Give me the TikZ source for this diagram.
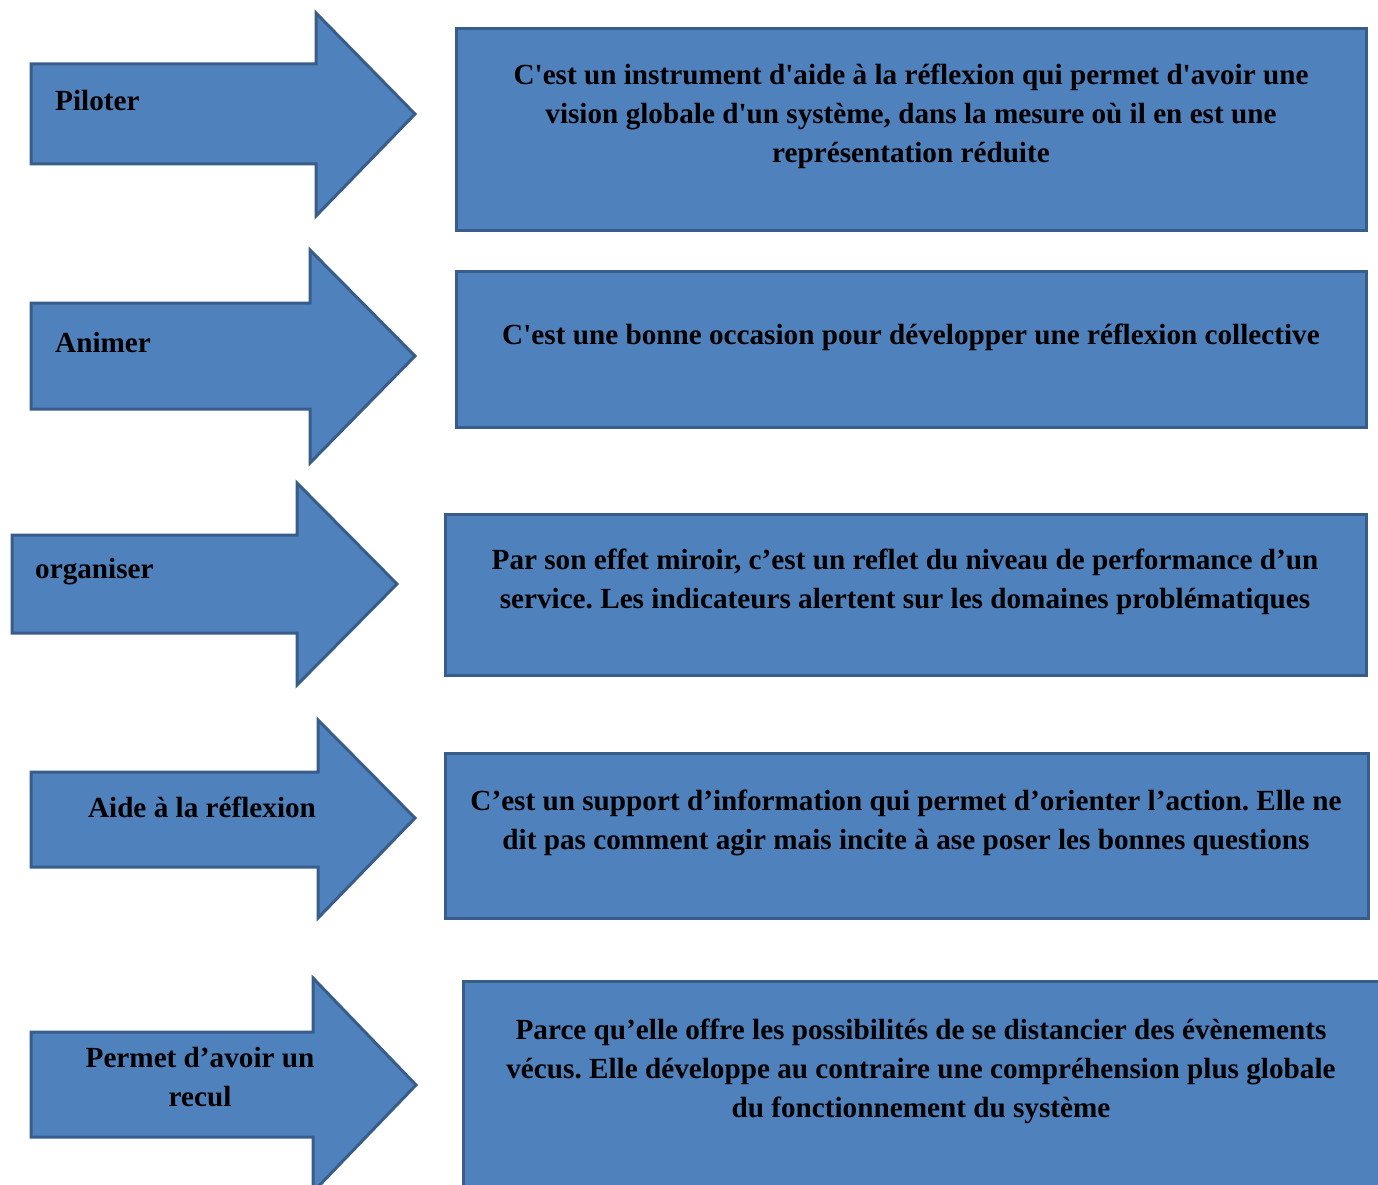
\documentclass[tikz,border=0pt]{standalone}
\usepackage{fontspec}
\setmainfont{Liberation Serif}
\definecolor{fillblue}{HTML}{4F81BD}
\definecolor{edgeblue}{HTML}{385D8A}
\newcommand{\sq}{\textquotesingle}
\tikzset{
  shapefill/.style={fill=fillblue, draw=edgeblue, line width=3pt, line join=miter},
  txt/.style={font=\fontsize{29.2}{39}\selectfont\bfseries\frenchspacing, text=black, align=center, inner sep=0pt},
  ltxt/.style={txt, anchor=west, align=left},
}
\begin{document}
\begin{tikzpicture}[x=1pt,y=-1pt]
\useasboundingbox (0,0) rectangle (1378,1185);
\begin{scope}
\clip (0,0) rectangle (1378,1185);
% arrows
\draw[shapefill] (31,64) -- (316,64) -- (316,13) -- (415,114) -- (316,216) -- (316,164) -- (31,164) -- cycle;
\draw[shapefill] (31,303) -- (310,303) -- (310,250) -- (415,356) -- (310,463) -- (310,409) -- (31,409) -- cycle;
\draw[shapefill] (12,535) -- (297,535) -- (297,483) -- (397,584) -- (297,685) -- (297,633) -- (12,633) -- cycle;
\draw[shapefill] (31,772) -- (318,772) -- (318,720) -- (415,818) -- (318,918) -- (318,867) -- (31,867) -- cycle;
\draw[shapefill] (31,1032) -- (313,1032) -- (313,978) -- (416,1085) -- (313,1192) -- (313,1137) -- (31,1137) -- cycle;
% boxes
\draw[shapefill] (456,29) rectangle (1366,230);
\draw[shapefill] (456,271) rectangle (1366,427);
\draw[shapefill] (445,514) rectangle (1366,675);
\draw[shapefill] (445,753) rectangle (1368,918);
\draw[shapefill] (463,981) rectangle (1380,1186);
\end{scope}
% arrow labels
\node[ltxt] (l1) at (55,101) {Piloter};
\node[ltxt] (l2) at (55,343) {Animer};
\node[ltxt] (l3) at (35,572) {organiser};
\node[txt] (l4) at (202,807) {Aide à la réflexion};
\node[txt] (l5) at (200,1077) {Permet d’avoir un\\recul};
% box texts
\node[txt] (t1) at (911,116) {C\sq est un instrument d\sq aide à la réflexion qui permet d\sq avoir une\\vision globale d\sq un système, dans la mesure où il en est une\\représentation réduite};
\node[txt] (t2) at (911,337) {C\sq est une bonne occasion pour développer une réflexion collective};
\node[txt] (t3) at (905,582) {Par son effet miroir, c’est un reflet du niveau de performance d’un\\service. Les indicateurs alertent sur les domaines problématiques};
\node[txt] (t4) at (906,823) {C’est un support d’information qui permet d’orienter l’action. Elle ne\\dit pas comment agir mais incite à ase poser les bonnes questions};
\node[txt] (t5) at (921,1071) {Parce qu’elle offre les possibilités de se distancier des évènements\\vécus. Elle développe au contraire une compréhension plus globale\\du fonctionnement du système};
\end{tikzpicture}
\end{document}
